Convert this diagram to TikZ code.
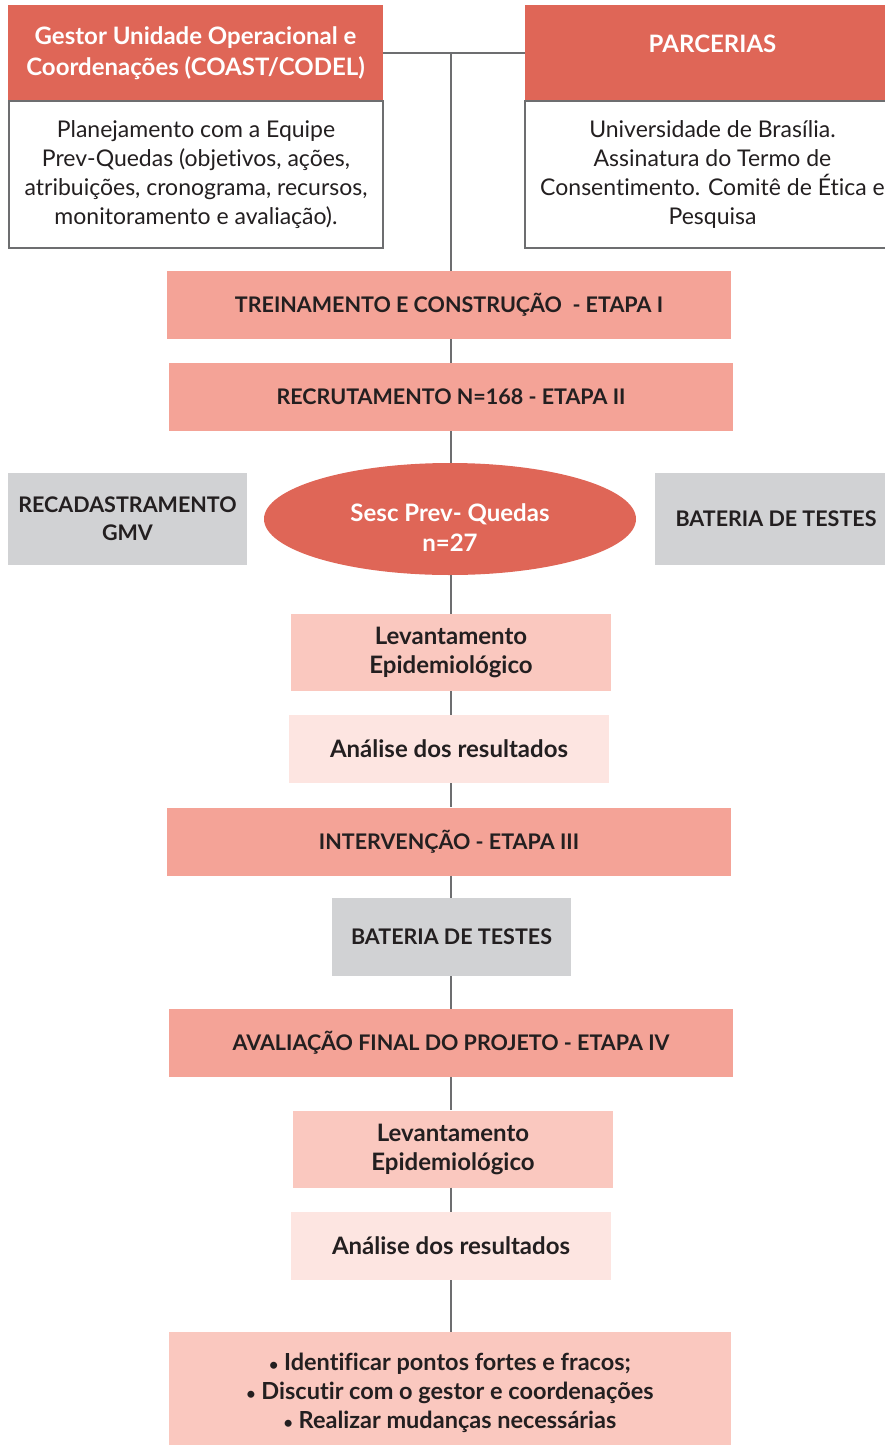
\documentclass[tikz,border=0pt]{standalone}
\usepackage{fontspec}
\setmainfont{Lato}[Ligatures=NoCommon]
\usetikzlibrary{positioning, shapes.geometric}

\definecolor{redbox}{HTML}{DF6657}
\definecolor{salmon}{HTML}{F4A397}
\definecolor{pinkA}{HTML}{FAC8BF}
\definecolor{pinkB}{HTML}{FDE5E1}
\definecolor{grayA}{HTML}{D1D2D4}
\definecolor{linegray}{HTML}{6D6E70}
\definecolor{textdark}{HTML}{231F20}

\newcommand{\smallbullet}{{\fontsize{16}{16}\selectfont•}}

\begin{document}
\begin{tikzpicture}[x=1pt, y=-1pt,
    box/.style={rectangle, inner sep=0pt, align=center, text=textdark,
        font=\fontsize{21.5}{28}\selectfont\bfseries},
    head/.style={box, fill=redbox, text=white, font=\fontsize{24}{31}\selectfont\bfseries},
    plain/.style={box, draw=linegray, line width=1.5pt, fill=white,
        font=\fontsize{23}{29}\selectfont},
    etapa/.style={box, fill=salmon, minimum width=564, minimum height=68},
    levbox/.style={box, fill=pinkA, minimum width=320, minimum height=77,
        font=\fontsize{24}{29}\selectfont\bfseries},
    resbox/.style={box, fill=pinkB, minimum width=320, minimum height=68,
        font=\fontsize{24}{29}\selectfont\bfseries},
    testbox/.style={box, fill=grayA},
    link/.style={draw=linegray, line width=1.5pt}]
    \useasboundingbox (0,0) rectangle (884,1445);

    % top: gestor and parcerias
    \node[head, minimum width=375, minimum height=96] (gestor) at (195.5,53)
        {Gestor Unidade Operacional e\\Coordenações (COAST/CODEL)};
    \node[plain, minimum width=374, minimum height=147] (plan) at (196,174.5)
        {Planejamento com a Equipe\\Prev-Quedas (objetivos, ações,\\atribuições, cronograma, recursos,\\monitoramento e avaliação).};
    \node[head, minimum width=375, minimum height=96] (parc) at (712.5,53)
        {PARCERIAS\\[-12pt]\mbox{}};
    \node[plain, minimum width=375, minimum height=147] (univ) at (712.5,174.5)
        {Universidade de Brasília.\\Assinatura do Termo de\\Consentimento. Comitê de Ética e\\Pesquisa};

    % etapas
    \node[etapa] (trein) at (449,305) {TREINAMENTO E CONSTRUÇÃO\ \ - ETAPA I};
    \node[etapa] (recr) at (451,397) {RECRUTAMENTO N=168 - ETAPA II};

    \node[ellipse, fill=redbox, text=white, inner sep=0pt, align=center,
        minimum width=372, minimum height=112,
        font=\fontsize{24}{30}\selectfont\bfseries] (sesc) at (450,519)
        {\rule{0pt}{35pt}Sesc Prev- Quedas\\n=27};
    \node[testbox, minimum width=239, minimum height=92] (recad) at (127.5,519)
        {RECADASTRAMENTO\\GMV};
    \node[testbox, minimum width=242, minimum height=92] (bat1) at (776,519)
        {BATERIA DE TESTES};

    \node[levbox] (lev1) at (451,652.5) {Levantamento\\Epidemiológico};
    \node[resbox] (res1) at (449,749) {Análise dos resultados};
    \node[etapa] (interv) at (449,841.5) {INTERVENÇÃO - ETAPA III};
    \node[testbox, minimum width=239, minimum height=78] (bat2) at (451.5,937)
        {BATERIA DE TESTES};
    \node[etapa] (aval) at (451,1043) {AVALIAÇÃO FINAL DO PROJETO - ETAPA IV};
    \node[levbox] (lev2) at (453,1149) {Levantamento\\Epidemiológico};
    \node[resbox] (res2) at (451,1246) {Análise dos resultados};
    \node[box, fill=pinkA, minimum width=562, minimum height=113,
        font=\fontsize{23.5}{29}\selectfont\bfseries] (fim) at (450,1388.5)
        {\rule{0pt}{27pt}\smallbullet\ Identificar pontos fortes e fracos;\\\smallbullet\ Discutir com o gestor e coordenações\\\smallbullet\ Realizar mudanças necessárias};

    % connectors
    \draw[link] (gestor) -- (parc);
    \coordinate (junc) at (451,53);
    \draw[link] (junc) -- (trein.north -| junc);
    \foreach \a/\b in {trein/recr, recr/sesc, sesc/lev1, lev1/res1, res1/interv,
        interv/bat2, bat2/aval, aval/lev2, lev2/res2, res2/fim}
        \draw[link] (\a.south -| junc) -- (\b.north -| junc);
\end{tikzpicture}
\end{document}
